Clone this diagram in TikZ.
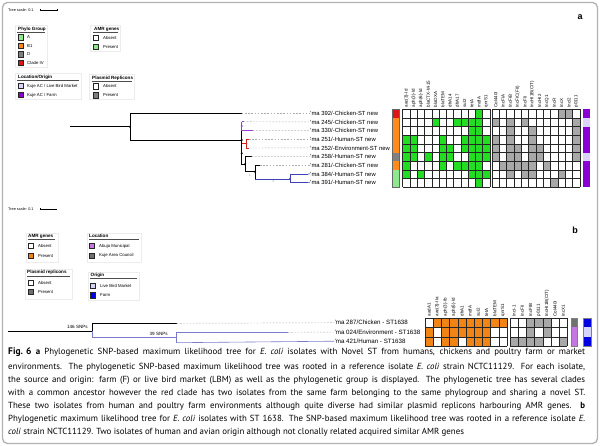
\documentclass[tikz,border=0pt]{standalone}
\usepackage{fontspec}
\setmainfont{Liberation Sans}
\newfontfamily\capfont{PT Sans}
\definecolor{lgA}{HTML}{8EE88E}
\definecolor{amrg}{HTML}{22DD22}
\definecolor{lgP}{HTML}{88E888}
\definecolor{orB}{HTML}{FF8C1A}
\definecolor{grD}{HTML}{808080}
\definecolor{rdC}{HTML}{DD1515}
\definecolor{plg}{HTML}{A8A8A8}
\definecolor{farm}{HTML}{8A00D4}
\definecolor{lbm}{HTML}{DCD4F8}
\definecolor{orb}{HTML}{F08414}
\definecolor{abuja}{HTML}{C477E0}
\definecolor{kuje}{HTML}{707070}
\definecolor{lbmb}{HTML}{D4D4F8}
\definecolor{farmb}{HTML}{0000E0}
\definecolor{purp}{HTML}{9B3CD0}
\definecolor{redc}{HTML}{CC2222}
\definecolor{bluc}{HTML}{4040B8}
\definecolor{slate}{HTML}{7B7BCC}
\begin{document}
\begin{tikzpicture}[x=1pt,y=-1pt,
  lab/.style={font=\fontsize{5.9}{6}\selectfont, anchor=west, inner sep=0pt},
  labb/.style={font=\fontsize{6.2}{7}\selectfont, anchor=west, inner sep=0pt},
  hdr/.style={font=\fontsize{4.5}{5}\selectfont, rotate=90, anchor=west, inner sep=0pt},
  lgt/.style={font=\bfseries\fontsize{4.6}{5}\selectfont, anchor=west, inner sep=0pt},
  lgi/.style={font=\fontsize{4.3}{5}\selectfont, anchor=west, inner sep=0pt},
  sw/.style={draw=black!85, line width=0.6pt},
  br/.style={line width=0.6pt},
  dsh/.style={gray!65, dash pattern=on 1.6pt off 1.6pt, line width=0.45pt},
  cell/.style={draw=black!85, line width=0.5pt},
  captxt/.style={font=\capfont\fontsize{8.85}{10}\selectfont, anchor=west, inner sep=0pt},
  plab/.style={font=\bfseries\fontsize{9}{10}\selectfont, inner sep=0pt},
  sctxt/.style={font=\fontsize{3.8}{4}\selectfont, anchor=west, inner sep=0pt},
  ul/.style={line width=0.7pt, black!70},
  lbox/.style={draw=gray!15, line width=0.4pt}
]
\useasboundingbox (0,0) rectangle (600,446);
\draw[gray!60, line width=1.3pt, rounded corners=5pt] (2.5,2.5) rectangle (597.5,443.5);

% ================= PANEL A =================
\node[plab] (pa) at (580,17) {a};
\node[sctxt] (tsa) at (8,10) {Tree scale: 0.1};
\draw[line width=0.5pt] (40,10) -- (57,10) (40,8.8) -- (40,11.2) (57,8.8) -- (57,11.2);

% legend boxes
\draw[lbox] (15,25) rectangle (47,67);
\draw[lbox] (90,25) rectangle (120,51);
\draw[lbox] (15,73) rectangle (81,99);
\draw[lbox] (89,74) rectangle (134,99);
% Phylo group
\node[lgt] (lg1) at (18,29) {Phylo Group};
\draw[ul] (17,32) -- (45,32);
\foreach \yy/\cc/\tt in {37.3/lgA/A, 45.7/orB/B1, 54.3/grD/D, 62.7/rdC/Clade IV}{
  \filldraw[sw, fill=\cc] (18.5,\yy-2.6) rectangle (23.5,\yy+2.6);
  \node[lgi] at (27,\yy) {\tt};
}
% AMR genes
\node[lgt] (lg2) at (94,29.3) {AMR genes};
\draw[ul] (93,32.3) -- (118,32.3);
\filldraw[sw, fill=white] (93.5,35.5) rectangle (98.5,40.8);
\node[lgi] at (103,38.3) {Absent};
\filldraw[sw, fill=lgP] (93.5,44.5) rectangle (98.5,49.8);
\node[lgi] at (103,47.3) {Present};
% Location/origin
\node[lgt] (lg3) at (18,77.3) {Location/Origin};
\draw[ul] (17,80.3) -- (79,80.3);
\filldraw[sw, fill=lbm] (18.5,83.4) rectangle (23.5,88.6);
\node[lgi] at (27,86) {Kuje AC / Live Bird Market};
\filldraw[sw, fill=farm] (18.5,92.4) rectangle (23.5,97.6);
\node[lgi] at (27,95) {Kuje AC / Farm};
% Plasmid replicons
\node[lgt] (lg4) at (92,78) {Plasmid Replicons};
\draw[ul] (92,81) -- (132,81);
\filldraw[sw, fill=white] (93.5,83.7) rectangle (98.5,88.9);
\node[lgi] at (103,86.3) {Absent};
\filldraw[sw, fill=grD] (93.5,92.7) rectangle (98.5,97.9);
\node[lgi] at (103,95.3) {Present};

% ---- tree a ----
\coordinate (ar) at (70,126.7);
\coordinate (a0) at (130,126.7);
\coordinate (t392) at (241.7,113.3);
\coordinate (a1) at (241.7,140);
\coordinate (pn) at (241.7,126);
\coordinate (t245) at (243.5,121.7);
\coordinate (t330) at (252.7,130.7);
\coordinate (rn) at (246.3,143.6);
\coordinate (t251) at (249,139.3);
\coordinate (t252) at (249,148);
\coordinate (a2) at (241.7,153.3);
\coordinate (a3) at (245,164.3);
\coordinate (t258) at (251.7,156.7);
\coordinate (a4) at (255,171.7);
\coordinate (t281) at (260,165.3);
\coordinate (bn) at (290,179);
\coordinate (t384) at (308,174);
\coordinate (t391) at (308,182.7);

\draw[br] (ar) -- (a0);
\draw[br] (a0 |- t392) -- (a0 |- a1);
\draw[br] (a0 |- t392) -- (t392);
\draw[br] (a0 |- a1) -- (a1);
\draw[br] (pn |- t330) -- (a3 -| a1) -- (a3);
\draw[br, purp] (pn |- t245) -- (pn |- t330);
\draw[br, purp] (pn |- t245) -- (t245);
\draw[br, purp] (pn |- t330) -- (t330);
\draw[br, redc] (a1 |- rn) -- (rn);
\draw[br, redc] (rn |- t251) -- (rn |- t252);
\draw[br, redc] (rn |- t251) -- (t251);
\draw[br, redc] (rn |- t252) -- (t252);
\draw[br] (a3 |- t258) -- (a3 |- a4);
\draw[br] (a3 |- t258) -- (t258);
\draw[br] (a3 |- a4) -- (a4);
\draw[br] (a4 |- t281) -- (a4 |- bn);
\draw[br] (a4 |- t281) -- (t281);
\draw[br, bluc] (a4 |- bn) -- (bn);
\draw[br, bluc] (bn |- t384) -- (bn |- t391);
\draw[br, bluc] (bn |- t384) -- (t384);
\draw[br, bluc] (bn |- t391) -- (t391);
\foreach \p in {a0,a1,a2,a3,a4}{\fill (\p) circle (1.1pt);}
\fill[purp] (pn) circle (1.1pt);
\fill[redc] (rn) circle (1.1pt);
\fill[bluc] (bn) circle (1.1pt);
\node[font=\fontsize{3}{3}\selectfont, text=gray, inner sep=0pt] (s1) at (250,175.5) {1};
\node[font=\fontsize{3}{3}\selectfont, text=gray, inner sep=0pt] (s2) at (273.3,181.3) {1};

% labels a
\foreach \nm/\yy/\tx in {L392/113.3/{'ma 392/-Chicken-ST new},
  L245/121.9/{'ma 245/-Chicken-ST new},
  L330/130.6/{'ma 330/-Chicken-ST new},
  L251/139.3/{'ma 251/-Human-ST new},
  L252/147.9/{'ma 252/-Environment-ST new},
  L258/156.6/{'ma 258/-Human-ST new},
  L281/165.3/{'ma 281/-Chicken-ST new},
  L384/173.9/{'ma 384/-Human-ST new},
  L391/182.6/{'ma 391/-Human-ST new}}{
  \node[lab] (\nm) at (310,\yy) {\tx};
}
\draw[dsh] (t392) -- (L392.west);
\draw[dsh] (t245) -- (L245.west);
\draw[dsh] (t330) -- (L330.west);
\draw[dsh] (t251) -- (L251.west);
\draw[dsh] (t252) -- (L252.west);
\draw[dsh] (t258) -- (L258.west);
\draw[dsh] (t281) -- (L281.west);
\draw[br, bluc] (t384) -- (L384.west);
\draw[br, bluc] (t391) -- (L391.west);

% phylogroup strip
\foreach \r/\cc in {1/rdC,2/orB,3/orB,4/orB,5/orB,6/grD,7/orB,8/lgA,9/lgA}{
  \fill[\cc] (392,{109.3+(\r-1)*8.67}) rectangle (399.6,{109.3+\r*8.67});
}
\draw[black!60, line width=0.4pt] (392,109.3) rectangle (399.6,187.3);
% AMR grid a
\foreach \r/\cols in {1/{11},2/{5,8,9,10,11},3/{10,11},4/{1,2,6,9,10,11,12},5/{1,2,6,7,9,10,11,12},6/{1,2,4,6,7,10,11,12},7/{1,6,8,9,10,11},8/{1,3,10,11,12},9/{11}}{
  \foreach \c in \cols {
    \fill[amrg] ({402.7+(\c-1)*7.27},{109.3+(\r-1)*8.67}) rectangle +(7.27,8.67);
  }
}
\foreach \i in {0,...,12}{\draw[cell] ({402.7+\i*7.27},109.3) -- ({402.7+\i*7.27},187.3);}
\foreach \j in {0,...,9}{\draw[cell] (402.7,{109.3+\j*8.67}) -- (489.9,{109.3+\j*8.67});}
% plasmid grid a
\foreach \r/\cols in {1/{10,11},2/{1,3,5,12},3/{3,6,12},4/{1,3,6,12},5/{1,3,4,6,7,12},6/{1,3,4,6,7,12},7/{2,3,4,5,6,8},8/{3,5,6,10},9/{9}}{
  \foreach \c in \cols {
    \fill[plg] ({492+(\c-1)*7.33},{109.3+(\r-1)*8.67}) rectangle +(7.33,8.67);
  }
}
\foreach \i in {0,...,12}{\draw[cell] ({492+\i*7.33},109.3) -- ({492+\i*7.33},187.3);}
\foreach \j in {0,...,9}{\draw[cell] (492,{109.3+\j*8.67}) -- (580,{109.3+\j*8.67});}
% location strip
\fill[farm] (582.5,109.3) rectangle (590,187.3);
\fill[lbm] (582.5,{109.3+8.67}) rectangle (590,{109.3+2*8.67});
\fill[lbm] (582.5,{109.3+5*8.67}) rectangle (590,{109.3+6*8.67});
% headers a
\foreach \i/\tx in {1/aac(3)-Id,2/aph(3)-Id,3/aph(6)-Id,4/blaCTX-M-15,5/blaOXA,6/blaTEM,7/dfrA14,8/dfrA17,9/sul2,10/tetA,11/mdfA,12/qnrS1}{
  \node[hdr] (ha\i) at ({402.7+(\i-0.5)*7.27},107.5) {\tx};
}
\foreach \i/\tx in {1/Col440I,2/IncFIA,3/IncFIB,4/IncFIC(FII),5/IncFII,6/IncHI1B(CIT),7/IncHI2,8/IncQ1,9/IncR,10/IncX,11/IncI2,12/p0111}{
  \node[hdr] (hp\i) at ({492+(\i-0.5)*7.33},107.5) {\tx};
}

% ================= PANEL B =================
\node[plab] (pb) at (575,230) {b};
\node[sctxt] (tsb) at (8,209) {Tree scale: 0.1};
\draw[line width=0.5pt] (40,209) -- (57,209) (40,207.8) -- (40,210.2);

\draw[lbox] (26,233) rectangle (58,262);
\draw[lbox] (87,233) rectangle (141,262);
\draw[lbox] (25,269) rectangle (72,299);
\draw[lbox] (88,272) rectangle (139,300);
\node[lgt] (lb1) at (28,236) {AMR genes};
\draw[ul] (28,239.7) -- (55,239.7);
\filldraw[sw, fill=white] (28.5,243.3) rectangle (33.5,248.7);
\node[lgi] at (38,246) {Absent};
\filldraw[sw, fill=orb] (28.5,253) rectangle (33.5,258.4);
\node[lgi] at (38,255.7) {Present};

\node[lgt] (lb2) at (89,236) {Location};
\draw[ul] (89,239.7) -- (139,239.7);
\filldraw[sw, fill=abuja] (89.5,243.3) rectangle (94.5,248.7);
\node[lgi] at (99,246) {Abuja Municipal};
\filldraw[sw, fill=kuje] (89.5,253) rectangle (94.5,258.4);
\node[lgi] at (99,255.7) {Kuje Area Council};

\node[lgt] (lb3) at (27,272.7) {Plasmid replicons};
\draw[ul] (27,276.3) -- (70,276.3);
\filldraw[sw, fill=white] (28.5,280) rectangle (33.5,285.4);
\node[lgi] at (38,282.7) {Absent};
\filldraw[sw, fill=kuje] (28.5,289.3) rectangle (33.5,294.7);
\node[lgi] at (38,292) {Present};

\node[lgt] (lb4) at (90.5,275) {Origin};
\draw[ul] (90,278.7) -- (137,278.7);
\filldraw[sw, fill=lbmb] (90.5,283) rectangle (95.5,288.4);
\node[lgi] at (100,285.7) {Live Bird Market};
\filldraw[sw, fill=farmb] (90.5,292.6) rectangle (95.5,298);
\node[lgi] at (100,295.3) {Farm};

% tree b
\coordinate (brt) at (8,331);
\coordinate (b0) at (92,331);
\coordinate (t287) at (176.7,323.3);
\coordinate (b1) at (176.7,337.7);
\coordinate (t024) at (288,332.3);
\coordinate (t421) at (288,342.7);
\draw[br] (brt) -- (b0);
\draw[br] (b0 |- t287) -- (b0);
\draw[br, slate] (b0) -- (b0 |- b1);
\draw[br] (b0 |- t287) -- (t287);
\draw[br, slate] (b0 |- b1) -- (b1);
\draw[br, slate] (b1 |- t024) -- (b1 |- t421);
\draw[br, slate] (b1 |- t024) -- (t024);
\node[font=\fontsize{4.6}{5}\selectfont, anchor=east, inner sep=0pt] (snp1) at (88,326.7) {146 SNPs};
\node[font=\fontsize{4.6}{5}\selectfont, anchor=east, inner sep=0pt] (snp2) at (168,334.3) {39 SNPs};
\node[labb] (L287) at (334.3,322.7) {'ma 287/Chicken - ST1638};
\node[labb] (L024) at (334.3,332) {'ma 024/Environment - ST1638};
\node[labb] (L421) at (334.3,341.2) {'ma 421/Human - ST1638};
\draw[dsh] (t287) -- (L287.west);
\draw[dsh] (t024) -- (L024.west);
\draw[br, slate] (b1 |- t421) -- (L421.west);

% AMR grid b
\foreach \r/\cols in {1/{2,3,4,5,6,7,8,9,10},2/{1,3,4,5,6,7,8},3/{1,3,4,6,7,8}}{
  \foreach \c in \cols {
    \fill[orb] ({425+(\c-1)*8.2},{318.3+(\r-1)*9.23}) rectangle +(8.2,9.23);
  }
}
\foreach \i in {0,...,10}{\draw[cell] ({425+\i*8.2},318.3) -- ({425+\i*8.2},346);}
\foreach \j in {0,...,3}{\draw[cell] (425,{318.3+\j*9.23}) -- (507,{318.3+\j*9.23});}
% plasmid grid b
\foreach \r/\cols in {1/{3,4,5},2/{3,5},3/{1,2,3,4,7}}{
  \foreach \c in \cols {
    \fill[plg] ({510+(\c-1)*8.19},{318.3+(\r-1)*9.23}) rectangle +(8.19,9.23);
  }
}
\foreach \i in {0,...,7}{\draw[cell] ({510+\i*8.19},318.3) -- ({510+\i*8.19},346);}
\foreach \j in {0,...,3}{\draw[cell] (510,{318.3+\j*9.23}) -- (567.3,{318.3+\j*9.23});}
% strips b
\fill[kuje] (570.7,318.3) rectangle (577.3,327.5);
\fill[abuja] (570.7,327.5) rectangle (577.3,346);
\draw[black!50, line width=0.4pt] (570.7,318.3) rectangle (577.3,346);
\fill[farmb] (582.7,318.3) rectangle (590.7,327.5);
\fill[lbmb] (582.7,327.5) rectangle (590.7,336.8);
\fill[farmb] (582.7,336.8) rectangle (590.7,346);
\draw[black!50, line width=0.4pt] (582.7,318.3) rectangle (590.7,346);
% headers b
\foreach \i/\tx in {1/aadA1,2/aac(3)-IIa,3/aph(3)-Ib,4/aph(6)-Id,5/dfrA1,6/mdfA,7/sul2,8/tetA,9/blaTEM,10/qnrS1}{
  \node[hdr] (hb\i) at ({425+(\i-0.5)*8.2},316.5) {\tx};
}
\foreach \i/\tx in {1/IncI-1,2/IncFII,3/IncFIB,4/p0111,5/IncHI1B(CIT),6/Col440I,7/IncX1}{
  \node[hdr] (hq\i) at ({510+(\i-0.5)*8.19},316.5) {\tx};
}

% ================= CAPTION =================
\node[captxt] (c1) at (8,352.5) {\makebox[577pt][s]{\textbf{\fontsize{9.5}{10}\selectfont\mbox{Fig. 6}} \textbf{a} Phylogenetic SNP-based maximum likelihood tree for \textit{E. coli} isolates with Novel ST from humans, chickens and poultry farm or market}};
\node[captxt] (c2) at (8,366.8) {\makebox[577pt][s]{environments. The phylogenetic SNP-based maximum likelihood tree was rooted in a reference isolate \textit{E. coli} strain NCTC11129. For each isolate,}};
\node[captxt] (c3) at (8,379.9) {\makebox[577pt][s]{the source and origin: farm (F) or live bird market (LBM) as well as the phylogenetic group is displayed. The phylogenetic tree has several clades}};
\node[captxt] (c4) at (8,393) {\makebox[577pt][s]{with a common ancestor however the red clade has two isolates from the same farm belonging to the same phylogroup and sharing a novel ST.}};
\node[captxt] (c5) at (8,406.1) {\makebox[577pt][s]{These two isolates from human and poultry farm environments although quite diverse had similar plasmid replicons harbouring AMR genes. \textbf{b}}};
\node[captxt] (c6) at (8,419.2) {\makebox[577pt][s]{Phylogenetic maximum likelihood tree for \textit{E. coli} isolates with ST 1638. The SNP-based maximum likelihood tree was rooted in a reference isolate \textit{E.}}};
\node[captxt] (c7) at (8,432.3) {\textit{coli} strain NCTC11129. Two isolates of human and avian origin although not clonally related acquired similar AMR genes};
\end{tikzpicture}
\end{document}
